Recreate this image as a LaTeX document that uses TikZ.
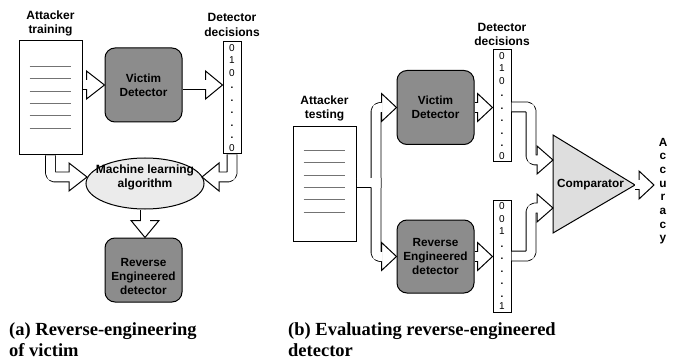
\documentclass[tikz,border=0pt]{standalone}
\usepackage{fontspec}
\setmainfont{Liberation Sans}
\newfontfamily\capfont{Liberation Serif}
\usetikzlibrary{calc,shapes.geometric}
\definecolor{procgray}{HTML}{8C8C8C}
\definecolor{mlgray}{HTML}{EBEBEB}
\definecolor{cmpgray}{HTML}{DEDEDE}
\newcommand\dt{\textbf{.}}
\tikzset{
 lw/.style={line width=1pt},
 doc/.style={draw, lw, fill=white, minimum width=63pt, minimum height=114pt, inner sep=0},
 proc/.style={draw, lw, fill=procgray, rounded corners=10pt, minimum width=77pt, minimum height=74pt, font=\fontsize{11.8}{14}\selectfont\bfseries, align=center, inner sep=0},
 title/.style={font=\fontsize{12}{14.5}\selectfont\bfseries, align=center, inner sep=0},
 col/.style={draw, lw, fill=white, minimum width=18pt, minimum height=112pt, inner sep=0, align=center, font=\fontsize{10}{12.5}\selectfont},
 shaftout/.style={line width=10.8pt, line join=round, rounded corners=4pt},
 shaftin/.style={line width=9pt, white, rounded corners=4pt},
 headst/.style={draw, lw, fill=white, line join=miter},
 captxt/.style={font=\fontsize{18.5}{21}\selectfont\capfont\bfseries, align=left, anchor=north west, inner sep=0},
 docline/.style={line width=0.7pt, black!55},
}
\newcommand\harrow[3]{%
  \draw[shaftout] #1 (#2);
  \draw[headst] ($(#2)!14pt!90:(#3)$) -- (#3) -- ($(#2)!14pt!-90:(#3)$) -- cycle;
  \draw[shaftin] #1 ($(#2)!1.2pt!(#3)$);
}
\begin{document}
\begin{tikzpicture}[x=1pt,y=-1pt]
\fill[white] (0,0) rectangle (676,363);
\useasboundingbox (0,0) rectangle (676,363);

% ---------- left panel ----------
\node[title] (ttlA) at (50.5,23.2) {Attacker\\training};
\node[doc] (docA) at (50.5,98) {};
\foreach \i in {0,...,5} \draw[docline] ($(docA.north west)+(11,26+12.3*\i)$) -- ++(41,0);
\node[proc] (vicA) at (143.5,85) {Victim\\Detector};
\node[title] (ddA) at (232,24.8) {Detector\\decisions};
\node[col] (decA) at (232,98) {0\\1\\0\\\dt\\\dt\\\dt\\\dt\\\dt\\0};
\node[ellipse, draw, lw, fill=mlgray, minimum width=118pt, minimum height=51pt, inner sep=0] (mlA) at (145,183.5) {};
\node[title] (mlAt) at (145,177.5) {Machine learning\\algorithm};
\node[proc, minimum height=64pt] (revA) at (143.5,270) {};
\node[title, font=\fontsize{11.8}{14}\selectfont\bfseries] (revAt) at (143.5,276) {Reverse\\Engineered\\detector};

\coordinate (a1b) at ($(vicA.west)+(-18,0)$);
\harrow{(docA.east |- a1b) --}{a1b}{vicA.west}
\coordinate (a2t) at (decA.west |- vicA.east);
\coordinate (a2b) at ($(a2t)+(-17,0)$);
\harrow{(vicA.east) --}{a2b}{a2t}
\coordinate (a3t) at (87,177);
\coordinate (a3b) at (69,177);
\harrow{(docA.south) -- (docA.south |- a3t) --}{a3b}{a3t}
\coordinate (a4t) at (202,177);
\coordinate (a4b) at (219,177);
\harrow{(decA.south) -- (decA.south |- a4t) --}{a4b}{a4t}
\coordinate (a5t) at (mlA.south |- revA.north);
\coordinate (a5b) at ($(a5t)+(0,-17)$);
\harrow{(mlA.south) --}{a5b}{a5t}

\node[captxt] (capA) at (9,322) {(a) Reverse-engineering\\of victim};

% ---------- right panel ----------
\node[title] (ttlB) at (324.5,108.5) {Attacker\\testing};
\node[doc] (docB) at (324.5,184) {};
\foreach \i in {0,...,5} \draw[docline] ($(docB.north west)+(11,24+12.3*\i)$) -- ++(41,0);
\node[proc] (vicB) at (435.5,107.5) {Victim\\Detector};
\node[proc, minimum height=73pt] (revB) at (435.5,256.5) {Reverse\\Engineered\\detector};
\node[title] (ddB) at (502,34.3) {Detector\\decisions};
\node[col] (decB1) at (502,106) {0\\1\\0\\\dt\\\dt\\\dt\\\dt\\\dt\\0};
\node[col] (decB2) at (502,256.5) {0\\0\\1\\\dt\\\dt\\\dt\\\dt\\\dt\\1};

\coordinate (cT) at (553,135);
\coordinate (cB) at (553,233);
\coordinate (cP) at (635,185);
\draw[lw, fill=cmpgray, line join=miter] (cT) -- (cP) -- (cB) -- cycle;
\node[font=\fontsize{11.8}{14}\selectfont\bfseries, inner sep=0] (cmp) at (590.5,185) {Comparator};
\node[title, font=\fontsize{11.8}{13.7}\selectfont\bfseries] (acc) at (663,191.2) {A\\c\\c\\u\\r\\a\\c\\y};

% split arrow from attacker testing
\coordinate (bj) at (376,183);
\coordinate (b1t) at (vicB.west);
\coordinate (b1b) at ($(b1t)+(-15,0)$);
\coordinate (b2t) at (revB.west);
\coordinate (b2b) at ($(b2t)+(-15,0)$);
\draw[shaftout] (docB.east |- bj) -- (bj);
\draw[shaftout] ($(bj)+(0,5)$) -- (bj |- b1t) -- (b1b);
\draw[shaftout] ($(bj)+(0,-5)$) -- (bj |- b2t) -- (b2b);
\draw[headst] ($(b1b)!14pt!90:(b1t)$) -- (b1t) -- ($(b1b)!14pt!-90:(b1t)$) -- cycle;
\draw[headst] ($(b2b)!14pt!90:(b2t)$) -- (b2t) -- ($(b2b)!14pt!-90:(b2t)$) -- cycle;
\draw[shaftin] (docB.east |- bj) -- (bj);
\draw[shaftin] ($(bj)+(0,5)$) -- (bj |- b1t) -- ($(b1b)!1.2pt!(b1t)$);
\draw[shaftin] ($(bj)+(0,-5)$) -- (bj |- b2t) -- ($(b2b)!1.2pt!(b2t)$);

\coordinate (b3t) at (decB1.west |- vicB.east);
\coordinate (b3b) at ($(b3t)+(-15,0)$);
\harrow{(vicB.east) --}{b3b}{b3t}
\coordinate (b4t) at (decB2.west |- revB.east);
\coordinate (b4b) at ($(b4t)+(-15,0)$);
\harrow{(revB.east) --}{b4b}{b4t}

\coordinate (b5t) at (553,160);
\coordinate (b5b) at (537,160);
\harrow{(decB1.east |- 0,107) -- (531,107) -- (531,160) --}{b5b}{b5t}
\coordinate (b6t) at (553,208);
\coordinate (b6b) at (537,208);
\harrow{(decB2.east |- 0,256) -- (531,256) -- (531,208) --}{b6b}{b6t}
\coordinate (b7t) at (654,185);
\coordinate (b7b) at (639,185);
\harrow{(cP) --}{b7b}{b7t}

\node[captxt] (capB) at (288,322) {(b) Evaluating reverse-engineered\\detector};
\end{tikzpicture}
\end{document}
